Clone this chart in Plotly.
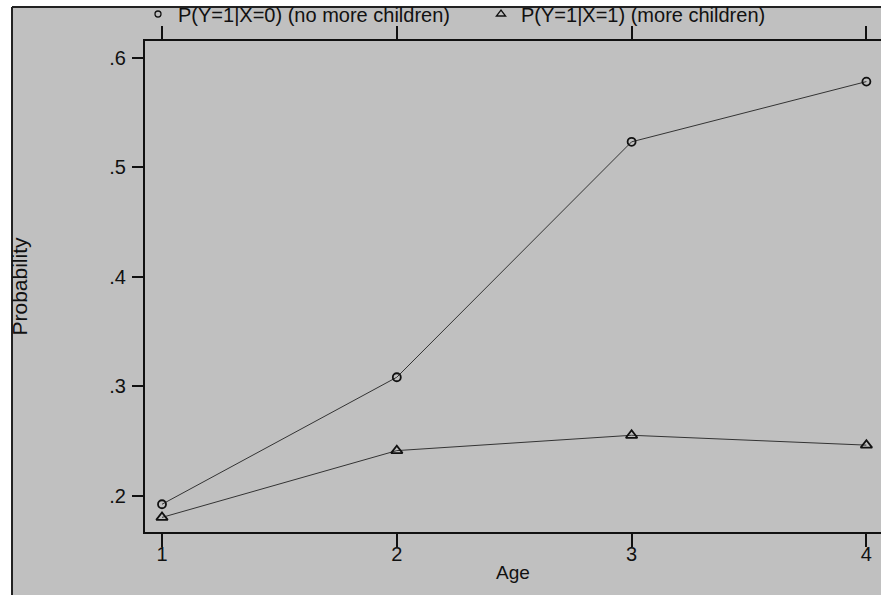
import plotly.graph_objects as go

# ---- data ----
age = [1, 2, 3, 4]
p_no_more_children = [0.192, 0.308, 0.523, 0.578]
p_more_children = [0.180, 0.241, 0.255, 0.246]
x_tick_vals = [1, 2, 3, 4]
x_tick_text = ["1", "2", "3", "4"]
y_tick_vals = [0.2, 0.3, 0.4, 0.5, 0.6]
y_tick_text = [".2", ".3", ".4", ".5", ".6"]
series_names = ["P(Y=1|X=0) (no more children)", "P(Y=1|X=1) (more children)"]

GRAY = "#c0c0c0"
INK = "#111111"
LINE = "#333333"
FONT = "Liberation Sans, Arial, sans-serif"

VIEW_W = 881
W, H = 900, 595
ML, MR, MT, MB = 145, W - VIEW_W, 41, 63
PW, PH = W - ML - MR, H - MT - MB


def px_x(p):
    return (p - ML) / PW


def px_y(p):
    return 1 + (MT - p) / PH


styles = [("circle-open", 8), ("triangle-up-open", 10)]
series = [p_no_more_children, p_more_children]

fig = go.Figure()
for ys, (sym, size) in zip(series, styles):
    fig.add_trace(go.Scatter(
        x=age, y=ys, mode="lines+markers",
        line=dict(color=LINE, width=1),
        marker=dict(symbol=sym, size=size, color=INK, line=dict(width=1.8, color=INK)),
        showlegend=False, cliponaxis=False, hoverinfo="skip"))

# legend entries (markers only, as in the reference)
for name, (sym, size) in zip(series_names, styles):
    fig.add_trace(go.Scatter(
        x=[None], y=[None], mode="markers", name=name,
        marker=dict(symbol=sym, size=size - 2, color=INK, line=dict(width=1.3, color=INK))))

axis_common = dict(
    showline=True, linecolor=INK, linewidth=2,
    ticks="outside", tickcolor=INK, tickwidth=2,
    showgrid=False, zeroline=False, automargin=False,
    tickfont=dict(family=FONT, size=20, color=INK),
)

shapes = [
    # white strips outside the graph region (top and left)
    dict(type="rect", xref="paper", yref="paper", layer="below",
         x0=px_x(0), x1=px_x(W), y0=px_y(7), y1=px_y(0),
         fillcolor="white", line=dict(width=0)),
    dict(type="rect", xref="paper", yref="paper", layer="below",
         x0=px_x(0), x1=px_x(12), y0=px_y(H), y1=px_y(0),
         fillcolor="white", line=dict(width=0)),
    # dark border lines of the graph region
    dict(type="line", xref="paper", yref="paper", layer="below",
         x0=px_x(12), x1=px_x(W), y0=px_y(7), y1=px_y(7),
         line=dict(color="#222222", width=2)),
    dict(type="line", xref="paper", yref="paper", layer="below",
         x0=px_x(12), x1=px_x(12), y0=px_y(7), y1=px_y(H),
         line=dict(color="#222222", width=2)),
]

fig.update_layout(
    width=W, height=H,
    margin=dict(l=ML, r=MR, t=MT, b=MB, pad=0, autoexpand=False),
    paper_bgcolor=GRAY, plot_bgcolor=GRAY,
    font=dict(family=FONT, color=INK),
    xaxis=dict(
        **axis_common, mirror="ticks",
        range=[0.9276, 4.0622], tickvals=x_tick_vals, ticktext=x_tick_text,
        ticklen=13, ticklabelstandoff=-10,
        title=dict(text="Age", font=dict(family=FONT, size=19, color=INK), standoff=2),
    ),
    yaxis=dict(
        **axis_common, mirror=False,
        range=[0.16667, 0.61507], tickvals=y_tick_vals, ticktext=y_tick_text,
        ticklen=11, ticklabelstandoff=2,
        title=dict(text="Probability", font=dict(family=FONT, size=21, color=INK), standoff=76),
    ),
    legend=dict(
        orientation="h", x=px_x(138), xanchor="left",
        y=px_y(14), yanchor="middle",
        bgcolor="rgba(0,0,0,0)", borderwidth=0,
        font=dict(family=FONT, size=20, color=INK),
        entrywidth=298, entrywidthmode="pixels",
        itemclick=False, itemdoubleclick=False,
    ),
    shapes=shapes,
    showlegend=True,
)

fig.write_html(
    "out.html",
    config={"displayModeBar": False},
    post_script=(
        "document.body.style.margin='0';document.body.style.padding='0';"
        "document.body.style.overflow='hidden';"
        "document.documentElement.style.overflow='hidden';"
        "document.body.style.background='#c0c0c0';"
    ),
)
